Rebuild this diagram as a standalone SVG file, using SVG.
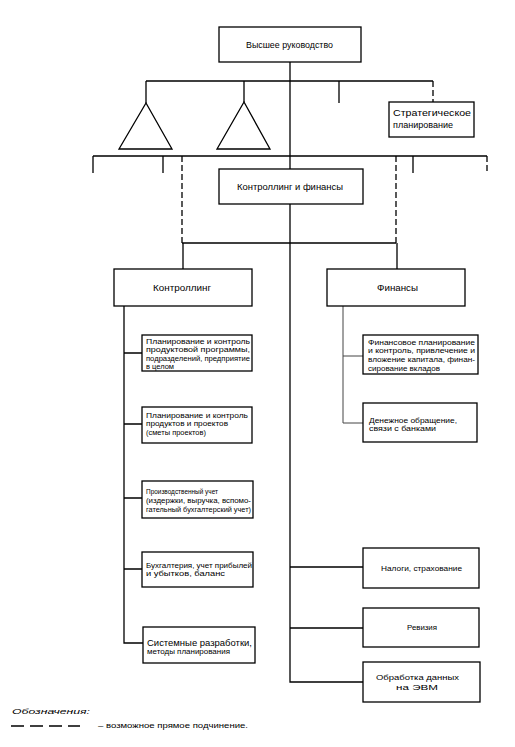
<svg xmlns="http://www.w3.org/2000/svg" width="515" height="747" viewBox="0 0 515 747">
<style>
.b{fill:#fff;stroke:#000;stroke-width:1.3}
.l{fill:none;stroke:#000;stroke-width:1.3}
.d{fill:none;stroke:#000;stroke-width:1.3;stroke-dasharray:6 3}
.t{font-family:"Liberation Sans",Arial,sans-serif;fill:#000}
.s{font-size:7.5px}
.m{font-size:8.5px}
</style>
<rect width="515" height="747" fill="#fff"/>
<g id="connectors">
<path class="l" d="M290 62V169M290 204V682H363"/>
<path class="l" d="M146 81H433M146 81V103M244 81V102M339 81V103"/>
<path class="d" d="M433 81V102"/>
<path class="l" d="M93 156H487M93 156V173M163 156V173M413 156V173"/>
<path class="d" d="M182 156V243M396 156V243M487 156V173"/>
<path class="l" d="M182 243H396M183 243V269M397 243V269"/>
<path class="l" d="M124 306V643H143M124 353H142M124 424H142M124 498H142M124 569H142"/>
<path fill="none" stroke="#444" stroke-width="1" d="M343 306V423H363M343 356H363"/>
<path class="l" d="M290 567H363M290 628H363"/>
</g>
<g id="top"><rect class="b" x="219" y="27" width="142" height="35"/><text class="t m" x="246" y="48" textLength="87" lengthAdjust="spacingAndGlyphs">Высшее руководство</text></g>
<g id="tri1"><polygon class="b" points="146,103 119,149 172,149"/></g>
<g id="tri2"><polygon class="b" points="244,102 217,149 270,149"/></g>
<g id="strat"><rect class="b" x="389" y="102" width="85" height="35"/><text class="t m" x="393" y="116" textLength="78" lengthAdjust="spacingAndGlyphs">Стратегическое</text><text class="t m" x="393" y="128" textLength="60" lengthAdjust="spacingAndGlyphs">планирование</text></g>
<g id="kf"><rect class="b" x="219" y="169" width="144" height="35"/><text class="t m" x="237" y="190" textLength="106" lengthAdjust="spacingAndGlyphs">Контроллинг и финансы</text></g>
<g id="ctrl"><rect class="b" x="114" y="269" width="138" height="37"/><text class="t m" x="153" y="291" textLength="58" lengthAdjust="spacingAndGlyphs">Контроллинг</text></g>
<g id="fin"><rect class="b" x="327" y="269" width="138" height="37"/><text class="t m" x="377" y="291" textLength="41" lengthAdjust="spacingAndGlyphs">Финансы</text></g>
<g id="c1"><rect class="b" x="142" y="335" width="110" height="36"/>
<text class="t s" x="146" y="344" textLength="104" lengthAdjust="spacingAndGlyphs">Планирование и контроль</text>
<text class="t s" x="146" y="352" textLength="104" lengthAdjust="spacingAndGlyphs">продуктовой программы,</text>
<text class="t s" x="146" y="361" textLength="104" lengthAdjust="spacingAndGlyphs">подразделений, предприятие</text>
<text class="t s" x="146" y="369" textLength="28" lengthAdjust="spacingAndGlyphs">в целом</text></g>
<g id="c2"><rect class="b" x="142" y="407" width="110" height="36"/>
<text class="t s" x="146" y="418" textLength="102" lengthAdjust="spacingAndGlyphs">Планирование и контроль</text>
<text class="t s" x="146" y="426" textLength="82" lengthAdjust="spacingAndGlyphs">продуктов и проектов</text>
<text class="t s" x="146" y="435" textLength="60" lengthAdjust="spacingAndGlyphs">(сметы проектов)</text></g>
<g id="c3"><rect class="b" x="142" y="481" width="111" height="37"/>
<text class="t s" x="146" y="494" textLength="72" lengthAdjust="spacingAndGlyphs">Производственный учет</text>
<text class="t s" x="146" y="503" textLength="105" lengthAdjust="spacingAndGlyphs">(издержки, выручка, вспомо-</text>
<text class="t s" x="146" y="512" textLength="105" lengthAdjust="spacingAndGlyphs">гательный бухгалтерский учет)</text></g>
<g id="c4"><rect class="b" x="142" y="552" width="111" height="35"/>
<text class="t s" x="146" y="568" textLength="106" lengthAdjust="spacingAndGlyphs">Бухгалтерия, учет прибылей</text>
<text class="t s" x="146" y="576" textLength="79" lengthAdjust="spacingAndGlyphs">и убытков, баланс</text></g>
<g id="c5"><rect class="b" x="143" y="627" width="112" height="36"/>
<text class="t m" x="147" y="646" textLength="105" lengthAdjust="spacingAndGlyphs">Системные разработки,</text>
<text class="t" style="font-size:6.5px" x="147" y="654" textLength="83" lengthAdjust="spacingAndGlyphs">методы планирования</text></g>
<g id="f1"><rect class="b" x="363" y="335" width="115" height="39"/>
<text class="t s" x="368" y="345" textLength="107" lengthAdjust="spacingAndGlyphs">Финансовое планирование</text>
<text class="t s" x="368" y="353" textLength="107" lengthAdjust="spacingAndGlyphs">и контроль, привлечение и</text>
<text class="t s" x="368" y="362" textLength="107" lengthAdjust="spacingAndGlyphs">вложение капитала, финан-</text>
<text class="t s" x="368" y="371" textLength="72" lengthAdjust="spacingAndGlyphs">сирование вкладов</text></g>
<g id="f2"><rect class="b" x="363" y="403" width="114" height="39"/>
<text class="t s" x="369" y="423" textLength="88" lengthAdjust="spacingAndGlyphs">Денежное обращение,</text>
<text class="t s" x="369" y="431" textLength="67" lengthAdjust="spacingAndGlyphs">связи с банками</text></g>
<g id="tax"><rect class="b" x="363" y="548" width="116" height="40"/><text class="t s" x="381" y="571" textLength="81" lengthAdjust="spacingAndGlyphs">Налоги, страхование</text></g>
<g id="audit"><rect class="b" x="363" y="608" width="116" height="39"/><text class="t s" x="407" y="630" textLength="30" lengthAdjust="spacingAndGlyphs">Ревизия</text></g>
<g id="edp"><rect class="b" x="363" y="662" width="117" height="40"/>
<text class="t s" x="376" y="680" textLength="83" lengthAdjust="spacingAndGlyphs">Обработка данных</text>
<text class="t s" x="396" y="690" textLength="42" lengthAdjust="spacingAndGlyphs">на ЭВМ</text></g>
<g id="legend">
<text class="t s" x="12" y="714" font-style="italic" textLength="78" lengthAdjust="spacingAndGlyphs">Обозначения:</text>
<path fill="none" stroke="#000" stroke-width="1.3" stroke-dasharray="13 6" d="M11 726H80"/>
<text class="t s" x="98" y="728" textLength="150" lengthAdjust="spacingAndGlyphs">– возможное прямое подчинение.</text>
</g>
</svg>
